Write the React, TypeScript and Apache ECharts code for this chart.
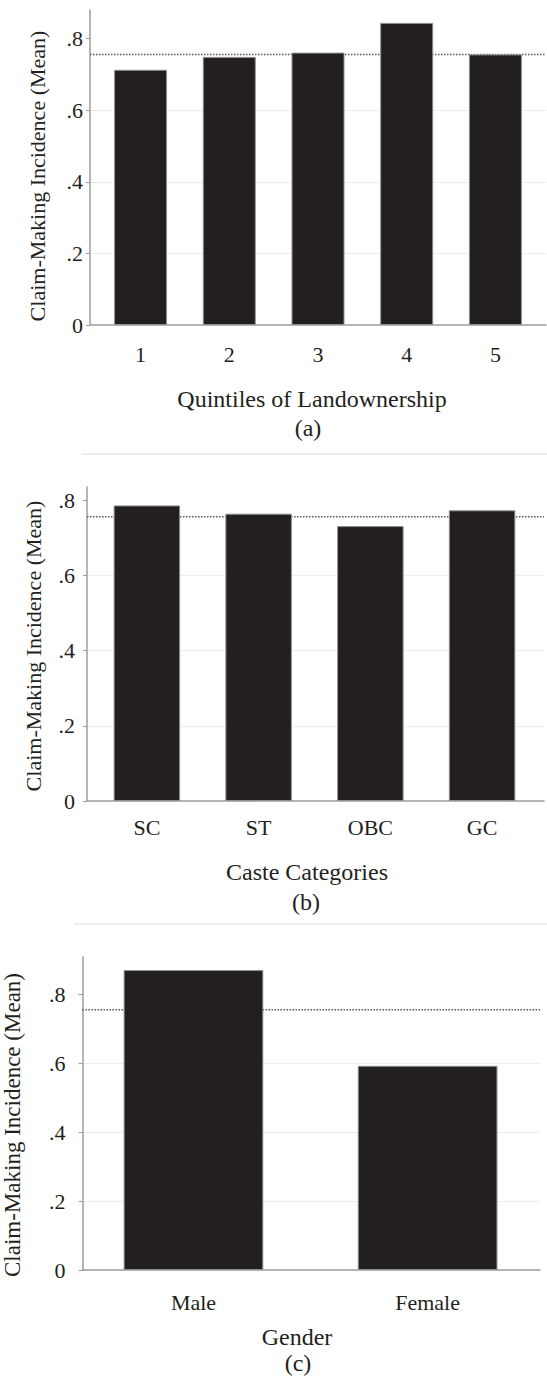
import React, { useEffect, useRef } from "react";
import * as echarts from "echarts";

const quintileCats = ["1", "2", "3", "4", "5"];
const quintileMeans = [0.713, 0.749, 0.761, 0.844, 0.756];
const casteCats = ["SC", "ST", "OBC", "GC"];
const casteMeans = [0.786, 0.764, 0.731, 0.773];
const genderCats = ["Male", "Female"];
const genderMeans = [0.871, 0.593];
const overallMean = 0.756;
const yTicks = [0, 0.2, 0.4, 0.6, 0.8];
const yTitle = "Claim-Making Incidence (Mean)";
const xTitles = ["Quintiles of Landownership", "Caste Categories", "Gender"];
const panelTags = ["(a)", "(b)", "(c)"];

const FONT = "Liberation Serif, DejaVu Serif, serif";
const INK = "#231f20";

type Panel = {
  cats: string[];
  vals: number[];
  grid: { left: number; top: number; width: number; height: number };
  xMin: number;
  xMax: number;
  yMax: number;
  barWidth: number;
  xLabelMargin: number;
  yLabelMargin: number;
  yTitlePos: [number, number];
  yTitleSize: number;
  xTitlePos: [number, number];
  tagPos: [number, number];
};

const panels: Panel[] = [
  {
    cats: quintileCats,
    vals: quintileMeans,
    grid: { left: 90, top: 10, width: 456, height: 315 },
    xMin: 0.43,
    xMax: 5.57,
    yMax: 0.88,
    barWidth: 53,
    xLabelMargin: 18,
    yLabelMargin: 7,
    yTitlePos: [37, 176],
    yTitleSize: 22,
    xTitlePos: [312, 399],
    tagPos: [308, 428],
  },
  {
    cats: casteCats,
    vals: casteMeans,
    grid: { left: 87, top: 487, width: 457, height: 314 },
    xMin: 0.464,
    xMax: 4.554,
    yMax: 0.835,
    barWidth: 66.5,
    xLabelMargin: 15,
    yLabelMargin: 12,
    yTitlePos: [33, 646],
    yTitleSize: 22,
    xTitlePos: [307, 872],
    tagPos: [306, 902],
  },
  {
    cats: genderCats,
    vals: genderMeans,
    grid: { left: 82.5, top: 957, width: 457.5, height: 313 },
    xMin: 0.526,
    xMax: 2.48,
    yMax: 0.909,
    barWidth: 139.7,
    xLabelMargin: 21,
    yLabelMargin: 17,
    yTitlePos: [12, 1125],
    yTitleSize: 23,
    xTitlePos: [297, 1337],
    tagPos: [298, 1363],
  },
];

const isOn = (v: number, arr: number[]) => arr.some((t) => Math.abs(t - v) < 1e-6);

export default function App() {
  const ref = useRef<HTMLDivElement>(null);

  useEffect(() => {
    if (!ref.current) return;
    const chart = echarts.init(ref.current, undefined, { renderer: "svg" });

    const grids = panels.map((p) => ({ ...p.grid, containLabel: false }));

    const xAxes = panels.map((p, i) => {
      const pos = p.cats.map((_, k) => k + 1);
      return {
        type: "value",
        gridIndex: i,
        min: p.xMin,
        max: p.xMax,
        axisLine: { show: true, lineStyle: { color: "#9c9c9c", width: 1.5 } },
        axisTick: { show: false },
        splitLine: { show: false },
        axisLabel: {
          customValues: pos,
          margin: p.xLabelMargin,
          color: INK,
          fontFamily: FONT,
          fontSize: 22,
          formatter: (v: number) => {
            const r = Math.round(v);
            if (Math.abs(v - r) > 1e-6) return "";
            return p.cats[r - 1] ?? "";
          },
        },
      };
    });

    const yAxes = panels.map((p, i) => ({
      type: "value",
      gridIndex: i,
      min: 0,
      max: p.yMax,
      interval: 0.2,
      axisLine: { show: true, lineStyle: { color: "#9c9c9c", width: 1.5 } },
      axisTick: {
        show: true,
        length: 4,
        customValues: yTicks,
        lineStyle: { color: "#9c9c9c", width: 1 },
      },
      splitLine: {
        show: true,
        showMaxLine: false,
        showMinLine: false,
        lineStyle: { color: "#ececec", width: 1 },
      },
      axisLabel: {
        customValues: yTicks,
        margin: p.yLabelMargin,
        color: INK,
        fontFamily: FONT,
        fontSize: 22,
        formatter: (v: number) => {
          if (!isOn(v, yTicks)) return "";
          if (Math.abs(v) < 1e-9) return "0";
          return v.toFixed(1).replace(/^0/, "");
        },
      },
    }));

    const series: any[] = [];
    panels.forEach((p, i) => {
      series.push({
        type: "line",
        xAxisIndex: i,
        yAxisIndex: i,
        data: [
          [p.xMin, overallMean],
          [p.xMax, overallMean],
        ],
        symbol: "none",
        silent: true,
        z: 1,
        lineStyle: { color: "#5a5a5a", width: 1.5, type: [1.5, 1.5] },
      });
      series.push({
        type: "bar",
        xAxisIndex: i,
        yAxisIndex: i,
        barWidth: p.barWidth,
        z: 2,
        data: p.vals.map((v, k) => [k + 1, v]),
        itemStyle: { color: INK, borderColor: "#8f8f8f", borderWidth: 1 },
      });
    });

    const graphic: any[] = [];
    panels.forEach((p, i) => {
      graphic.push({
        type: "text",
        x: p.yTitlePos[0],
        y: p.yTitlePos[1],
        rotation: Math.PI / 2,
        style: {
          text: yTitle,
          fill: INK,
          fontFamily: FONT,
          fontSize: p.yTitleSize,
          align: "center",
          verticalAlign: "middle",
        },
      });
      graphic.push({
        type: "text",
        x: p.xTitlePos[0],
        y: p.xTitlePos[1],
        style: {
          text: xTitles[i],
          fill: INK,
          fontFamily: FONT,
          fontSize: 24,
          align: "center",
          verticalAlign: "middle",
        },
      });
      graphic.push({
        type: "text",
        x: p.tagPos[0],
        y: p.tagPos[1],
        style: {
          text: panelTags[i],
          fill: INK,
          fontFamily: FONT,
          fontSize: 24,
          align: "center",
          verticalAlign: "middle",
        },
      });
    });
    graphic.push({
      type: "line",
      shape: { x1: 82, y1: 454, x2: 547, y2: 454 },
      style: { stroke: "#ececec", lineWidth: 2 },
    });
    graphic.push({
      type: "line",
      shape: { x1: 74, y1: 924, x2: 547, y2: 924 },
      style: { stroke: "#ececec", lineWidth: 2 },
    });

    chart.setOption({
      animation: false,
      backgroundColor: "#ffffff",
      grid: grids,
      xAxis: xAxes,
      yAxis: yAxes,
      series,
      graphic,
    });

    return () => chart.dispose();
  }, []);

  return (
    <div
      ref={ref}
      style={{ position: "absolute", left: 0, top: 0, width: 547, height: 1378 }}
    />
  );
}
